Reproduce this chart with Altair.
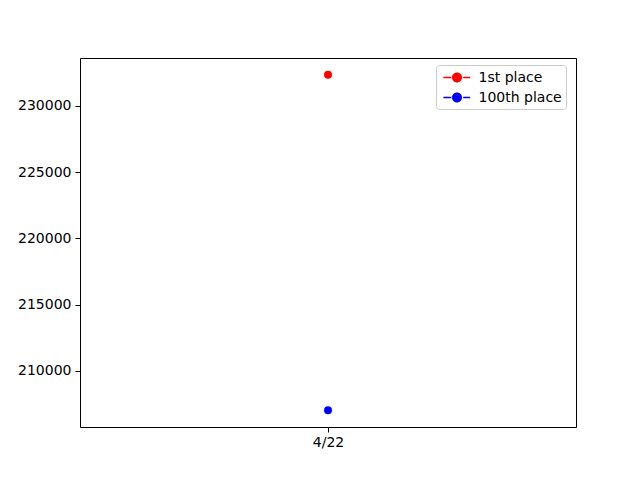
import altair as alt
import pandas as pd

dates = ["4/22"]
series_names = ["1st place", "100th place"]
first_place = [232350]
hundredth_place = [207040]
colors = ["red", "blue"]
y_ticks = [210000, 215000, 220000, 225000, 230000]

rows = []
for i, d in enumerate(dates):
    rows.append({"date": d, "series": series_names[0], "value": first_place[i]})
    rows.append({"date": d, "series": series_names[1], "value": hundredth_place[i]})
df = pd.DataFrame(rows)

span = max(first_place) - min(hundredth_place)
ydom = [min(hundredth_place) - 0.05 * span, max(first_place) + 0.05 * span]

legend_symbol = (
    "M-1.6,-0.09 L-0.68,-0.09 L-0.68,0.09 L-1.6,0.09 Z "
    "M0.72,-0.09 L1.55,-0.09 L1.55,0.09 L0.72,0.09 Z "
    "M-0.59,0 A0.59,0.59 0 1,0 0.59,0 A0.59,0.59 0 1,0 -0.59,0 Z"
)

font = "DejaVu Sans"

chart = alt.Chart(df).mark_point(filled=True, opacity=1, size=64, shape="circle").encode(
    x=alt.X("date:N", title=None,
            scale=alt.Scale(paddingInner=0, paddingOuter=0),
            axis=alt.Axis(labelAngle=0, domain=False, tickColor="black", tickSize=5,
                          labelFont=font, labelFontSize=14, labelColor="black",
                          labelPadding=3)),
    y=alt.Y("value:Q", title=None,
            scale=alt.Scale(domain=ydom, nice=False, zero=False),
            axis=alt.Axis(values=y_ticks, format="d", grid=False, domain=False,
                          tickColor="black", tickSize=5, labelFont=font,
                          labelFontSize=14, labelColor="black", labelPadding=4)),
    color=alt.Color("series:N", title=None,
                    scale=alt.Scale(domain=series_names, range=colors),
                    legend=alt.Legend(orient="none", legendX=356, legendY=7,
                                      symbolType=legend_symbol, symbolSize=289,
                                      symbolStrokeWidth=0, symbolOffset=8.5,
                                      labelFont=font, labelFontSize=14,
                                      labelColor="black",
                                      strokeColor="#cccccc", fillColor="white",
                                      padding=4, cornerRadius=3,
                                      rowPadding=4, labelOffset=13)),
).properties(
    width=496, height=369,
    autosize=alt.AutoSizeParams(type="none"),
    padding={"left": 72, "top": 50, "right": 56, "bottom": 45},
).configure_view(stroke="black", strokeWidth=1)

chart.save("out.html", embed_options={"renderer": "svg", "actions": False})
